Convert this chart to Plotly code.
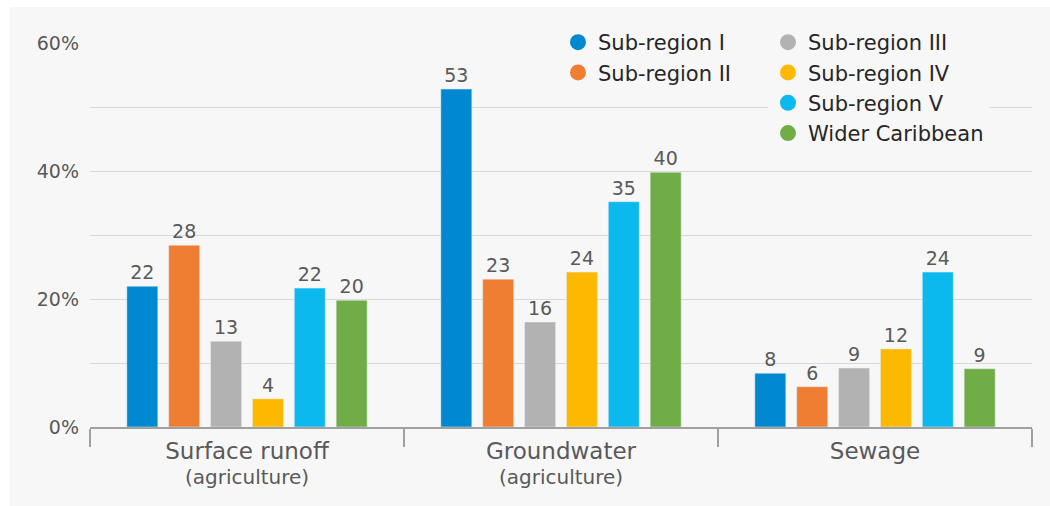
import plotly.graph_objects as go

categories = ["Surface runoff", "Groundwater", "Sewage"]
subtitles = ["(agriculture)", "(agriculture)", ""]
series_names = ["Sub-region I", "Sub-region II", "Sub-region III",
                "Sub-region IV", "Sub-region V", "Wider Caribbean"]
colors = ["#0089d0", "#ef7d32", "#b2b2b2", "#fcb900", "#0cb9ee", "#70ad47"]

sub_region_1 = [22.0, 52.8, 8.4]
sub_region_2 = [28.4, 23.1, 6.3]
sub_region_3 = [13.4, 16.4, 9.2]
sub_region_4 = [4.4, 24.2, 12.2]
sub_region_5 = [21.7, 35.2, 24.2]
wider_caribbean = [19.8, 39.8, 9.1]
series_values = [sub_region_1, sub_region_2, sub_region_3,
                 sub_region_4, sub_region_5, wider_caribbean]

y_ticks = [0, 20, 40, 60]
y_tick_labels = ["0%", "20%", "40%", "60%"]

FONT = "DejaVu Sans"
TEXT_GREY = "#595959"

W, H = 1050, 506
ML, MR, MT, MB = 90, 18, 43, 79
PW, PH = W - ML - MR, H - MT - MB

fig = go.Figure()
for name, vals, col in zip(series_names, series_values, colors):
    fig.add_trace(go.Bar(
        x=categories, y=vals, name=name, marker_color=col,
        text=[f"{v:.0f}" for v in vals], textposition="outside",
        textfont=dict(family=FONT, size=19, color=TEXT_GREY),
        cliponaxis=False, showlegend=False,
    ))

# legend entries drawn as round markers, split over two legend blocks
for i, (name, col) in enumerate(zip(series_names, colors)):
    fig.add_trace(go.Scatter(
        x=[None], y=[None], mode="markers", name=name,
        marker=dict(symbol="circle", size=18, color=col),
        legend="legend" if i < 2 else "legend2",
    ))

def px_x(p):
    return (p - ML) / PW

def px_y(p):
    return (H - MB - p) / PH

# second line of the category labels
for cat, sub in zip(categories, subtitles):
    if sub:
        fig.add_annotation(
            x=cat, xref="x", y=px_y(477), yref="paper", yanchor="middle",
            text=sub, showarrow=False,
            font=dict(family=FONT, size=20, color=TEXT_GREY),
        )

legend_style = dict(
    bgcolor="#f7f7f7", font=dict(family=FONT, size=21, color="#262626"),
    xanchor="left", yanchor="top", tracegroupgap=0,
    traceorder="normal",
)

fig.update_layout(
    width=W, height=H,
    margin=dict(l=ML, r=MR, t=MT, b=MB),
    paper_bgcolor="white", plot_bgcolor="#f7f7f7",
    barmode="group", bargap=0.2, bargroupgap=0.26,
    uniformtext=dict(mode="show", minsize=10),
    legend=dict(x=px_x(558), y=px_y(22), **legend_style),
    legend2=dict(x=px_x(768), y=px_y(22), **legend_style),
    shapes=[dict(
        type="rect", xref="paper", yref="paper", layer="below",
        x0=px_x(10), x1=px_x(W + 5), y0=px_y(H + 5), y1=px_y(7),
        fillcolor="#f7f7f7", line=dict(width=0),
    )],
)

fig.update_xaxes(
    tickvals=categories, ticktext=categories, tickson="boundaries",
    ticks="outside", ticklen=18, tickcolor="#a0a0a0", tickwidth=2,
    showline=True, linecolor="#a0a0a0", linewidth=2,
    tickfont=dict(family=FONT, size=23, color=TEXT_GREY),
    showgrid=False, ticklabelstandoff=2,
)
fig.update_yaxes(
    range=[0, 60], tickvals=y_ticks, ticktext=y_tick_labels,
    tickfont=dict(family=FONT, size=19, color=TEXT_GREY),
    showgrid=True, gridcolor="#d9d9d9", gridwidth=1,
    minor=dict(dtick=10, showgrid=True, gridcolor="#d9d9d9", gridwidth=1),
    zeroline=False, showline=False, ticks="", ticklabelstandoff=10,
)

fig.write_html("out.html")
